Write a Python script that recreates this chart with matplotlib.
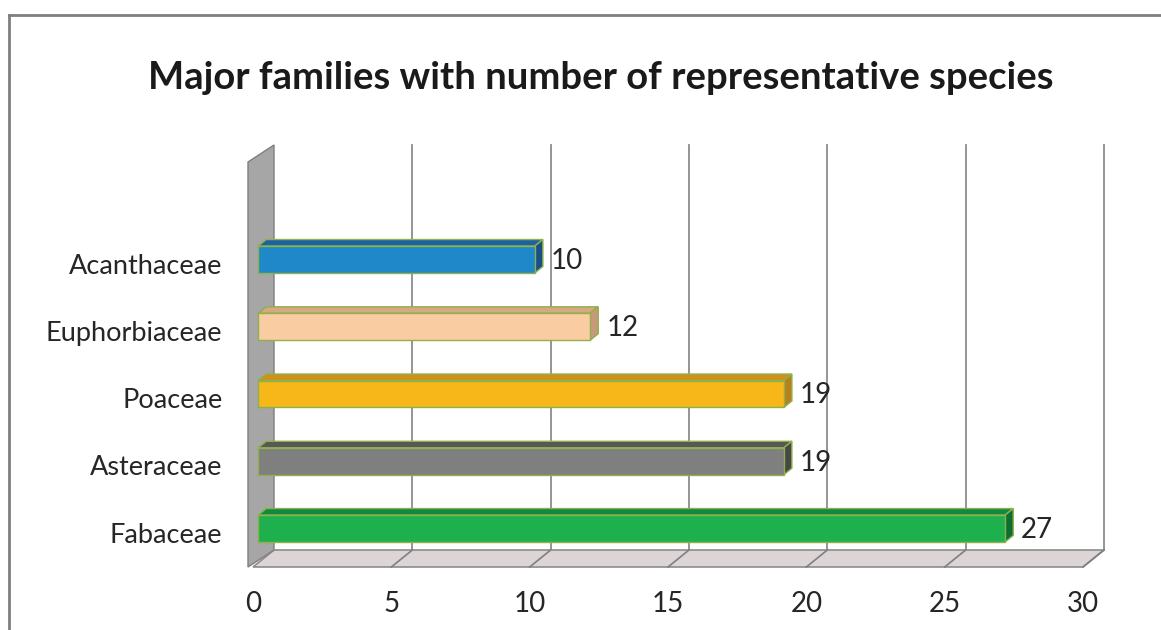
import matplotlib
matplotlib.use('Agg')
import matplotlib.pyplot as plt
from matplotlib.patches import Polygon
from matplotlib.lines import Line2D

# datos
familias = ['Fabaceae', 'Asteraceae', 'Poaceae', 'Euphorbiaceae', 'Acanthaceae']
especies = [27, 19, 19, 12, 10]
colores_frente = ['#1eb04e', '#7f7f7f', '#f7b719', '#f9cca2', '#1f88c9']
colores_arriba = ['#0e8b3e', '#585858', '#d0901c', '#d6a884', '#1d62a0']
colores_lado = ['#0b6e33', '#474747', '#b8801c', '#c99a7a', '#184f86']
ticks = [0, 5, 10, 15, 20, 25, 30]
titulo = 'Major families with number of representative species'

plt.rcParams['font.family'] = ['Lato', 'DejaVu Sans']

W, H = 1161, 630
fig = plt.figure(figsize=(W / 100, H / 100), dpi=100)

# ejes (plano frontal) en pixeles
izq, der, abajo, arriba = 253, 1083, 567, 162
ax = fig.add_axes([izq / W, (H - abajo) / H, (der - izq) / W, (abajo - arriba) / H])
ax.patch.set_alpha(0)
px_x = (der - izq) / 30
px_y = 67.25
y0 = -0.51
y1 = y0 + (abajo - arriba) / px_y
ax.set_xlim(0, 30)
ax.set_ylim(y0, y1)
for s in ax.spines.values():
    s.set_visible(False)

# profundidad 3D
ddx = 21 / px_x
ddy = 17 / px_y


def P(x, y, t):
    return (x + t * ddx, y + t * ddy)


def poly(pts, fc, ec, lw=1.0, z=1):
    ax.add_patch(Polygon(pts, closed=True, facecolor=fc, edgecolor=ec,
                         linewidth=lw, zorder=z, clip_on=False))


# piso
poly([P(0, y0, 0), P(30, y0, 0), P(30, y0, 1), P(0, y0, 1)], '#ddd5d5', '#8c8c8c', 1.2, 1)
# pared izquierda
grosor = 5 / px_x
poly([(-grosor, y0), (-grosor, y1), P(0, y1, 1), P(0, y0, 1)], '#a6a6a6', '#7f7f7f', 1.0, 2)

# lineas de la pared del fondo y del piso
for t in ticks[1:]:
    xa, ya = P(t, y0, 1)
    xb, yb = P(t, y1, 1)
    ax.plot([xa, xb], [ya, yb], color='#8c8c8c', lw=1.3, zorder=0.5, clip_on=False)
    xc, yc = P(t, y0, 0)
    ax.plot([xc, xa], [yc, ya], color='#7f7f7f', lw=1.2, zorder=1.5, clip_on=False)

# barras
t1, t2 = 0.25, 0.63
hh = 0.2
borde = '#8fb04a'
for i, v in enumerate(especies):
    c = i
    poly([P(0, c + hh, t1), P(v, c + hh, t1), P(v, c + hh, t2), P(0, c + hh, t2)],
         colores_arriba[i], borde, 1.0, 3)
    poly([P(v, c - hh, t1), P(v, c + hh, t1), P(v, c + hh, t2), P(v, c - hh, t2)],
         colores_lado[i], borde, 1.0, 3)
    poly([P(0, c - hh, t1), P(v, c - hh, t1), P(v, c + hh, t1), P(0, c + hh, t1)],
         colores_frente[i], borde, 1.0, 4)
    xt, yt = P(v, c, t1)
    ax.text(v + t2 * ddx + 8 / px_x, yt - 0.02, str(v), ha='left', va='center',
            fontsize=20, color='#262626', zorder=5)

# ejes
ax.set_xticks(ticks)
ax.set_xticklabels([str(t) for t in ticks], fontsize=20, color='#262626')
ax.set_yticks(range(len(familias)))
ax.set_yticklabels(familias, fontsize=19.5, color='#262626')
ax.tick_params(axis='x', length=0, pad=17)
ax.tick_params(axis='y', length=0, pad=22)

# titulo
fig.text(600.5 / W, 1 - 78 / H, titulo, ha='center', va='center', fontsize=27.5,
         fontweight='bold', color='#1a1a1a')

# marco
fig.add_artist(Line2D([9 / W, 1], [1 - 15 / H, 1 - 15 / H], color='#7f7f7f', lw=2))
fig.add_artist(Line2D([9 / W, 9 / W], [0, 1 - 15 / H], color='#7f7f7f', lw=2))

fig.savefig('out.png', dpi=100)
